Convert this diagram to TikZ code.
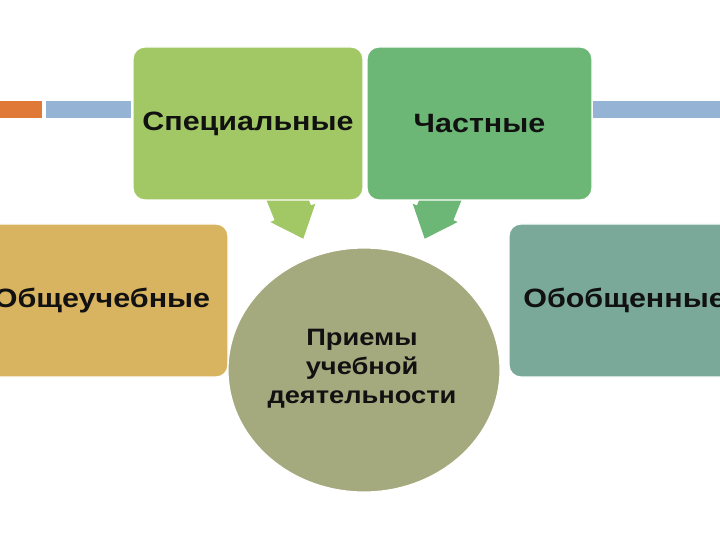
\documentclass[tikz,border=0pt]{standalone}
\usepackage{fontspec}
\newfontfamily\lbl{Liberation Sans}[FakeStretch=1.15]
\definecolor{cSpec}{HTML}{A2C866}
\definecolor{cChast}{HTML}{6CB776}
\definecolor{cObsh}{HTML}{D8B360}
\definecolor{cObob}{HTML}{7AA99A}
\definecolor{cCirc}{HTML}{A5A97E}
\definecolor{cOrange}{HTML}{E07838}
\definecolor{cBlue}{HTML}{94B3D5}
\definecolor{cText}{HTML}{111111}
\begin{document}
\begin{tikzpicture}[x=1pt,y=-1pt,
  box/.style={rounded corners=12pt, draw=white, line width=1.2pt, inner sep=0pt,
    font=\lbl\bfseries\fontsize{26.5}{30}\selectfont, text=cText},
  bar/.style={inner sep=0pt, minimum height=17pt, anchor=west},
  ctext/.style={font=\lbl\bfseries\fontsize{23.7}{29}\selectfont, text=cText, align=center}]
\useasboundingbox (0,0) rectangle (720,540);
\clip (0,0) rectangle (720,540);
\fill[white] (0,0) rectangle (720,540);
% bars
\node[bar, fill=cOrange, minimum width=42pt] (b1) at (0,109.5) {};
\node[bar, fill=cBlue, minimum width=85pt] (b2) at (46,109.5) {};
\node[bar, fill=cBlue, minimum width=130pt] (b3) at (593,109.5) {};
% block arrows
\coordinate (tipL) at (303.3,238.7);
\coordinate (tipR) at (424.7,238.7);
\fill[cSpec] (266.4,196) -- (266.4,200) -- (274.6,220.2) -- (270.3,222) -- (tipL) -- (315.3,203.7) -- (311,205.4) -- (308.8,200) -- (308.8,196) -- cycle;
\fill[cChast] (461.6,196) -- (461.6,200) -- (453.4,220.2) -- (457.7,222) -- (tipR) -- (412.7,203.7) -- (417,205.4) -- (419.2,200) -- (419.2,196) -- cycle;
% boxes
\node[box, fill=cSpec, minimum width=230pt, minimum height=153pt] (spec) at (248,123.5) {Специальные};
\node[box, fill=cChast, minimum width=225pt, minimum height=153pt] (chast) at (479.5,123.5) {Частные};
\node[box, fill=cObsh, minimum width=252pt, minimum height=153pt] (obsh) at (102,300.5) {Общеучебные};
\node[box, fill=cObob, minimum width=231pt, minimum height=153pt] (obob) at (624.5,300.5) {Обобщенные};
% central ellipse
\fill[cCirc, draw=white, line width=1.2pt] (364,370) ellipse [x radius=136, y radius=122];
\node[ctext] (center) at (362,369) {Приемы\\учебной\\деятельности};
\end{tikzpicture}
\end{document}
